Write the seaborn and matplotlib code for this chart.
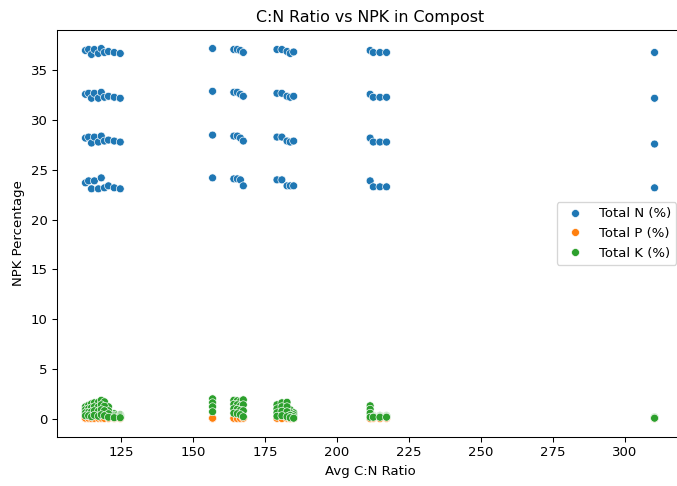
import matplotlib
matplotlib.use("Agg")
import matplotlib.pyplot as plt
import seaborn as sns
import pandas as pd

# Avg C:N ratio of each mix (each appears in four rows)
cn_ratio = [112.5, 113.6, 114.6, 115.6, 117.0, 118.0, 119.1, 120.5, 122.5, 124.6,
            156.7, 164.1, 165.3, 166.4, 167.4,
            179.1, 180.8, 182.6, 183.7, 184.9,
            211.5, 212.6, 214.9, 217.2,
            310.4]

n_row1 = [37.0, 37.1, 36.6, 37.1, 36.7, 37.2, 36.8, 36.9, 36.8, 36.7,
          37.2, 37.1, 37.1, 37.0, 36.8,
          37.1, 37.1, 36.9, 36.7, 36.85,
          37.0, 36.8, 36.8, 36.8,
          36.8]
n_row2 = [32.6, 32.7, 32.2, 32.7, 32.2, 32.8, 32.3, 32.4, 32.3, 32.2,
          32.9, 32.8, 32.8, 32.6, 32.4,
          32.7, 32.7, 32.4, 32.3, 32.4,
          32.6, 32.3, 32.3, 32.3,
          32.2]
n_row3 = [28.2, 28.3, 27.7, 28.3, 27.8, 28.4, 27.9, 28.0, 27.9, 27.8,
          28.5, 28.4, 28.4, 28.2, 27.9,
          28.3, 28.3, 27.9, 27.8, 27.9,
          28.2, 27.8, 27.8, 27.8,
          27.6]
n_row4 = [23.7, 23.9, 23.1, 23.9, 23.1, 24.2, 23.2, 23.4, 23.2, 23.1,
          24.2, 24.1, 24.1, 24.0, 23.4,
          24.0, 24.0, 23.4, 23.4, 23.4,
          23.9, 23.3, 23.3, 23.3,
          23.2]

p_row1 = [0.05, 0.04, 0.06, 0.05, 0.03, 0.05, 0.04, 0.06, 0.05, 0.04,
          0.02, 0.03, 0.04, 0.05, 0.03,
          0.02, 0.04, 0.03, 0.05, 0.04,
          0.03, 0.04, 0.05, 0.04,
          0.03]
p_row2 = [0.03, 0.05, 0.04, 0.03, 0.06, 0.04, 0.05, 0.03, 0.04, 0.05,
          0.03, 0.02, 0.05, 0.04, 0.05,
          0.03, 0.05, 0.04, 0.03, 0.05,
          0.04, 0.03, 0.04, 0.05,
          0.04]
p_row3 = [0.04, 0.03, 0.05, 0.06, 0.04, 0.03, 0.06, 0.04, 0.03, 0.06,
          0.04, 0.05, 0.03, 0.02, 0.04,
          0.05, 0.03, 0.05, 0.04, 0.03,
          0.05, 0.05, 0.03, 0.03,
          0.02]
p_row4 = [0.06, 0.05, 0.03, 0.04, 0.05, 0.06, 0.03, 0.05, 0.06, 0.03,
          0.05, 0.04, 0.02, 0.03, 0.06,
          0.04, 0.02, 0.06, 0.02, 0.06,
          0.02, 0.06, 0.02, 0.06,
          0.05]

k_row1 = [1.2, 1.35, 1.5, 1.6, 1.65, 1.85, 1.7, 1.2, 0.5, 0.4,
          2.0, 1.85, 1.8, 1.75, 1.9,
          1.4, 1.6, 1.65, 0.9, 0.6,
          1.3, 0.3, 0.3, 0.3,
          0.15]
k_row2 = [0.9, 1.0, 1.1, 1.2, 1.2, 1.4, 1.25, 0.8, 0.35, 0.3,
          1.6, 1.45, 1.4, 1.3, 1.4,
          1.0, 1.2, 1.2, 0.6, 0.4,
          0.95, 0.25, 0.25, 0.25,
          0.1]
k_row3 = [0.6, 0.65, 0.7, 0.8, 0.75, 0.9, 0.8, 0.5, 0.2, 0.2,
          1.2, 1.0, 0.95, 0.85, 0.8,
          0.6, 0.75, 0.7, 0.35, 0.2,
          0.55, 0.2, 0.2, 0.2,
          0.1]
k_row4 = [0.3, 0.3, 0.2, 0.35, 0.25, 0.4, 0.3, 0.15, 0.1, 0.1,
          0.7, 0.55, 0.5, 0.4, 0.2,
          0.25, 0.3, 0.2, 0.1, 0.05,
          0.15, 0.15, 0.15, 0.15,
          0.05]

series_labels = ["Total N (%)", "Total P (%)", "Total K (%)"]

wide = pd.DataFrame({
    "Avg C:N Ratio": cn_ratio * 4,
    series_labels[0]: n_row1 + n_row2 + n_row3 + n_row4,
    series_labels[1]: p_row1 + p_row2 + p_row3 + p_row4,
    series_labels[2]: k_row1 + k_row2 + k_row3 + k_row4,
})
long = wide.melt(id_vars="Avg C:N Ratio", value_vars=series_labels,
                 var_name="Nutrient", value_name="NPK Percentage")

DPI = 95
fig = plt.figure(figsize=(677 / DPI, 486 / DPI), dpi=DPI)
ax = fig.add_axes([57 / 677, 49 / 486, 626 / 677, 407 / 486])

sns.scatterplot(data=long, x="Avg C:N Ratio", y="NPK Percentage",
                hue="Nutrient", hue_order=series_labels, ax=ax)

ax.set_title("C:N Ratio vs NPK in Compost")
ax.set_xlabel("Avg C:N Ratio")
ax.set_ylabel("NPK Percentage")
handles, labels = ax.get_legend_handles_labels()
ax.legend(handles, labels, loc="center right")

fig.savefig("out.png", dpi=DPI)
